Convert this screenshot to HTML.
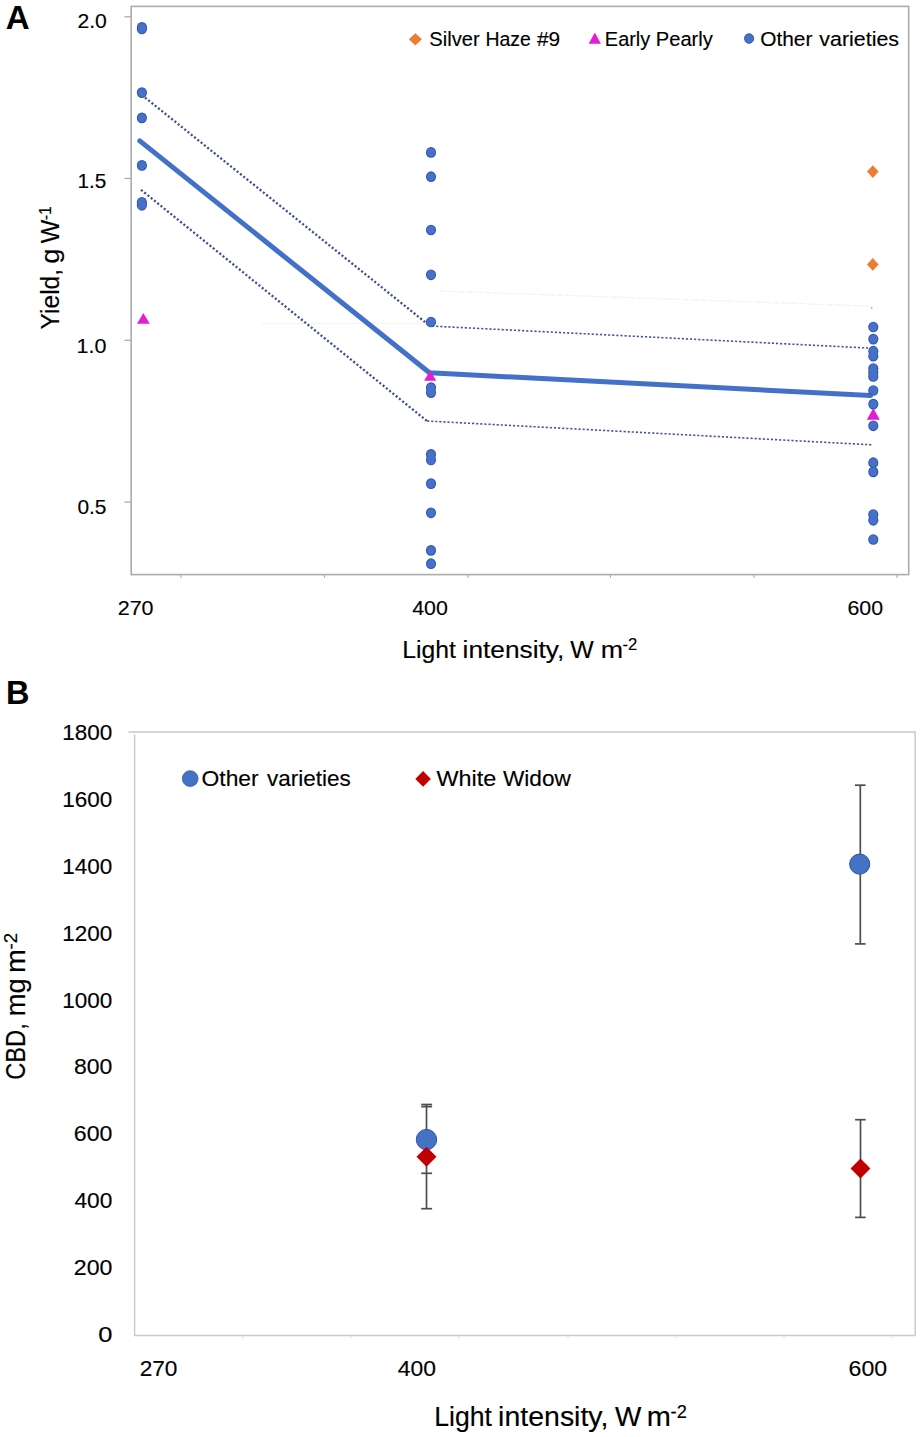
<!DOCTYPE html>
<html>
<head>
<meta charset="utf-8">
<style>
html,body{margin:0;padding:0;background:#fff;}
body{width:920px;height:1437px;overflow:hidden;}
svg{display:block;}
text{font-family:"Liberation Sans",sans-serif;fill:#000;stroke:#000;stroke-width:0.15px;}
text.b{font-weight:bold;stroke-width:0;}
</style>
</head>
<body>
<svg width="920" height="1437" viewBox="0 0 920 1437">
<rect x="0" y="0" width="920" height="1437" fill="#fff"/>

<!-- ===== Panel A frame ===== -->
<rect x="131.2" y="6.4" width="777.5" height="568.2" fill="none" stroke="#ababab" stroke-width="1.6"/>
<g stroke="#ababab" stroke-width="1.3">
<line x1="124.5" y1="16.8" x2="131" y2="16.8"/>
<line x1="124.5" y1="178.5" x2="131" y2="178.5"/>
<line x1="124.5" y1="340.3" x2="131" y2="340.3"/>
<line x1="124.5" y1="502.1" x2="131" y2="502.1"/>
</g>
<g stroke="#b5b5b5" stroke-width="1.2">
<line x1="181" y1="574.6" x2="181" y2="578"/>
<line x1="324.5" y1="574.6" x2="324.5" y2="578"/>
<line x1="468" y1="574.6" x2="468" y2="578"/>
<line x1="610.5" y1="574.6" x2="610.5" y2="578"/>
<line x1="754" y1="574.6" x2="754" y2="578"/>
<line x1="897" y1="574.6" x2="897" y2="578"/>
</g>

<!-- legend A markers -->
<path d="M415.4,33.2 L421.9,39.3 L415.4,45.4 L408.9,39.3Z" fill="#ED7D31"/>
<path d="M594.8,32.4 L600.9,43.7 L588.7,43.7Z" fill="#E21CD8"/>
<ellipse cx="749.1" cy="38.5" rx="4.6" ry="4.8" fill="#4571cc" stroke="#2f52a0" stroke-width="0.9"/>

<!-- lines A -->
<g fill="none" stroke-linecap="round">
<polyline points="262,323.5 440,323.5" stroke="#f6f6f6" stroke-width="1.5"/>
<polyline points="440,291 868,306" stroke="#f4f4f4" stroke-width="1.5" stroke-dasharray="6 3"/>
<polyline points="139.8,140.9 429.5,372.8 870.5,395.5" stroke="#4370c8" stroke-width="5" stroke-linejoin="round"/>
<polyline points="145,97.5 430,326" stroke="#414f92" stroke-width="2.3" stroke-dasharray="2.1 2.1" stroke-linecap="butt"/>
<polyline points="432,326.1 868,348" stroke="#4458a2" stroke-width="1.6" stroke-dasharray="2.2 1.9" stroke-linecap="butt"/>
<polyline points="141,189.8 427,421" stroke="#414f92" stroke-width="2.3" stroke-dasharray="2.1 2.1" stroke-linecap="butt"/>
<polyline points="427,421 871.8,444.8" stroke="#4458a2" stroke-width="1.6" stroke-dasharray="2.2 1.9" stroke-linecap="butt"/>
</g>

<path d="M873.3,408 L879.8,419.8 L866.8,419.8Z" fill="#E21CD8"/>
<g fill="#2f52a0">
<ellipse cx="141.9" cy="27.4" rx="5.05" ry="5.35"/>
<ellipse cx="141.9" cy="29.0" rx="5.05" ry="5.35"/>
<ellipse cx="141.9" cy="92.6" rx="5.05" ry="5.35"/>
<ellipse cx="141.9" cy="117.9" rx="5.05" ry="5.35"/>
<ellipse cx="141.9" cy="165.4" rx="5.05" ry="5.35"/>
<ellipse cx="141.9" cy="202.3" rx="5.05" ry="5.35"/>
<ellipse cx="141.9" cy="205.3" rx="5.05" ry="5.35"/>
<ellipse cx="431.0" cy="152.4" rx="5.05" ry="5.35"/>
<ellipse cx="431.0" cy="176.7" rx="5.05" ry="5.35"/>
<ellipse cx="431.0" cy="230.0" rx="5.05" ry="5.35"/>
<ellipse cx="431.0" cy="274.8" rx="5.05" ry="5.35"/>
<ellipse cx="431.0" cy="322.0" rx="5.05" ry="5.35"/>
<ellipse cx="431.0" cy="387.6" rx="5.05" ry="5.35"/>
<ellipse cx="431.0" cy="392.6" rx="5.05" ry="5.35"/>
<ellipse cx="431.0" cy="454.4" rx="5.05" ry="5.35"/>
<ellipse cx="431.0" cy="460.0" rx="5.05" ry="5.35"/>
<ellipse cx="431.0" cy="483.6" rx="5.05" ry="5.35"/>
<ellipse cx="431.0" cy="512.8" rx="5.05" ry="5.35"/>
<ellipse cx="431.0" cy="550.4" rx="5.05" ry="5.35"/>
<ellipse cx="431.0" cy="563.7" rx="5.05" ry="5.35"/>
<ellipse cx="873.3" cy="327.0" rx="5.05" ry="5.35"/>
<ellipse cx="873.3" cy="339.1" rx="5.05" ry="5.35"/>
<ellipse cx="873.3" cy="351.2" rx="5.05" ry="5.35"/>
<ellipse cx="873.3" cy="356.2" rx="5.05" ry="5.35"/>
<ellipse cx="873.3" cy="368.5" rx="5.05" ry="5.35"/>
<ellipse cx="873.3" cy="372.5" rx="5.05" ry="5.35"/>
<ellipse cx="873.3" cy="376.5" rx="5.05" ry="5.35"/>
<ellipse cx="873.3" cy="390.5" rx="5.05" ry="5.35"/>
<ellipse cx="873.3" cy="404.1" rx="5.05" ry="5.35"/>
<ellipse cx="873.3" cy="425.8" rx="5.05" ry="5.35"/>
<ellipse cx="873.3" cy="462.7" rx="5.05" ry="5.35"/>
<ellipse cx="873.3" cy="471.9" rx="5.05" ry="5.35"/>
<ellipse cx="873.3" cy="514.5" rx="5.05" ry="5.35"/>
<ellipse cx="873.3" cy="520.3" rx="5.05" ry="5.35"/>
<ellipse cx="873.3" cy="539.5" rx="5.05" ry="5.35"/>
</g><g fill="#4571cc">
<ellipse cx="141.9" cy="27.4" rx="4.15" ry="4.45"/>
<ellipse cx="141.9" cy="29.0" rx="4.15" ry="4.45"/>
<ellipse cx="141.9" cy="92.6" rx="4.15" ry="4.45"/>
<ellipse cx="141.9" cy="117.9" rx="4.15" ry="4.45"/>
<ellipse cx="141.9" cy="165.4" rx="4.15" ry="4.45"/>
<ellipse cx="141.9" cy="202.3" rx="4.15" ry="4.45"/>
<ellipse cx="141.9" cy="205.3" rx="4.15" ry="4.45"/>
<ellipse cx="431.0" cy="152.4" rx="4.15" ry="4.45"/>
<ellipse cx="431.0" cy="176.7" rx="4.15" ry="4.45"/>
<ellipse cx="431.0" cy="230.0" rx="4.15" ry="4.45"/>
<ellipse cx="431.0" cy="274.8" rx="4.15" ry="4.45"/>
<ellipse cx="431.0" cy="322.0" rx="4.15" ry="4.45"/>
<ellipse cx="431.0" cy="387.6" rx="4.15" ry="4.45"/>
<ellipse cx="431.0" cy="392.6" rx="4.15" ry="4.45"/>
<ellipse cx="431.0" cy="454.4" rx="4.15" ry="4.45"/>
<ellipse cx="431.0" cy="460.0" rx="4.15" ry="4.45"/>
<ellipse cx="431.0" cy="483.6" rx="4.15" ry="4.45"/>
<ellipse cx="431.0" cy="512.8" rx="4.15" ry="4.45"/>
<ellipse cx="431.0" cy="550.4" rx="4.15" ry="4.45"/>
<ellipse cx="431.0" cy="563.7" rx="4.15" ry="4.45"/>
<ellipse cx="873.3" cy="327.0" rx="4.15" ry="4.45"/>
<ellipse cx="873.3" cy="339.1" rx="4.15" ry="4.45"/>
<ellipse cx="873.3" cy="351.2" rx="4.15" ry="4.45"/>
<ellipse cx="873.3" cy="356.2" rx="4.15" ry="4.45"/>
<ellipse cx="873.3" cy="368.5" rx="4.15" ry="4.45"/>
<ellipse cx="873.3" cy="372.5" rx="4.15" ry="4.45"/>
<ellipse cx="873.3" cy="376.5" rx="4.15" ry="4.45"/>
<ellipse cx="873.3" cy="390.5" rx="4.15" ry="4.45"/>
<ellipse cx="873.3" cy="404.1" rx="4.15" ry="4.45"/>
<ellipse cx="873.3" cy="425.8" rx="4.15" ry="4.45"/>
<ellipse cx="873.3" cy="462.7" rx="4.15" ry="4.45"/>
<ellipse cx="873.3" cy="471.9" rx="4.15" ry="4.45"/>
<ellipse cx="873.3" cy="514.5" rx="4.15" ry="4.45"/>
<ellipse cx="873.3" cy="520.3" rx="4.15" ry="4.45"/>
<ellipse cx="873.3" cy="539.5" rx="4.15" ry="4.45"/>
</g>
<path d="M143.3,313 L149.8,323.7 L137,323.7Z" fill="#E21CD8"/>
<path d="M430.3,370.5 L436.2,380.7 L424.1,380.7Z" fill="#E21CD8"/>
<path d="M872.8,165.2 L878.6,171.6 L872.8,178 L867,171.6Z" fill="#ED7D31"/>
<path d="M872.8,258 L878.6,264.4 L872.8,270.8 L867,264.4Z" fill="#ED7D31"/>

<rect x="871" y="306.8" width="1.4" height="1.8" fill="#e08a9a"/>
<!-- ===== Panel B frame ===== -->
<g stroke="#cacaca" stroke-width="1.5" fill="none">
<line x1="128.4" y1="731.9" x2="915.9" y2="731.9"/>
<line x1="134.6" y1="734.5" x2="134.6" y2="1335.4"/>
<line x1="133.9" y1="1335.4" x2="915.2" y2="1335.4"/>
<line x1="915.2" y1="731.2" x2="915.2" y2="1335.4"/>
</g>
<g stroke="#dedede" stroke-width="1">
<line x1="243" y1="1335.4" x2="243" y2="1338.5"/>
<line x1="351" y1="1335.4" x2="351" y2="1338.5"/>
<line x1="459" y1="1335.4" x2="459" y2="1338.5"/>
<line x1="568" y1="1335.4" x2="568" y2="1338.5"/>
<line x1="675.7" y1="1335.4" x2="675.7" y2="1338.5"/>
<line x1="784" y1="1335.4" x2="784" y2="1338.5"/>
<line x1="892" y1="1335.4" x2="892" y2="1338.5"/>
</g>

<!-- legend B markers -->
<circle cx="190.2" cy="778.6" r="7.9" fill="#4472C4" stroke="#3a5fae" stroke-width="0.8"/>
<path d="M423.1,771.1 L430.9,778.9 L423.1,786.7 L415.3,778.9Z" fill="#C00000"/>

<!-- error bars B -->
<g stroke="#4d4d4d" stroke-width="1.7" fill="none">
<line x1="860.3" y1="785.2" x2="860.3" y2="943.9"/>
<line x1="855" y1="785.2" x2="865.6" y2="785.2"/>
<line x1="855" y1="943.9" x2="865.6" y2="943.9"/>
<line x1="426.5" y1="1104.5" x2="426.5" y2="1208.7"/>
<line x1="421.2" y1="1104.5" x2="432.1" y2="1104.5"/>
<line x1="421.2" y1="1106.6" x2="432.1" y2="1106.6"/>
<line x1="421.2" y1="1173.3" x2="432.1" y2="1173.3"/>
<line x1="421.2" y1="1208.7" x2="432.1" y2="1208.7"/>
<line x1="860.5" y1="1119.7" x2="860.5" y2="1217.4"/>
<line x1="855.1" y1="1119.7" x2="865.7" y2="1119.7"/>
<line x1="855.1" y1="1217.4" x2="865.7" y2="1217.4"/>
</g>
<circle cx="859.7" cy="864.1" r="10.1" fill="#4472C4" stroke="#2f52a0" stroke-width="1"/>
<circle cx="426.5" cy="1139.6" r="10.2" fill="#4472C4" stroke="#2f52a0" stroke-width="1"/>
<path d="M426.5,1146.8 L436.5,1156.8 L426.5,1166.8 L416.5,1156.8Z" fill="#C00000"/>
<path d="M860.5,1158.6 L870.4,1168.6 L860.5,1178.6 L850.6,1168.6Z" fill="#C00000"/>

<!-- ===== text ===== -->
<text class="b" x="5.68" y="29.00" font-size="33.40" textLength="23.90" lengthAdjust="spacingAndGlyphs">A</text>
<text x="77.44" y="27.90" font-size="21.00" textLength="29.39" lengthAdjust="spacingAndGlyphs">2.0</text>
<text x="77.51" y="187.90" font-size="21.00" textLength="28.96" lengthAdjust="spacingAndGlyphs">1.5</text>
<text x="76.56" y="353.00" font-size="21.00" textLength="29.88" lengthAdjust="spacingAndGlyphs">1.0</text>
<text x="77.38" y="513.50" font-size="21.00" textLength="29.10" lengthAdjust="spacingAndGlyphs">0.5</text>
<text x="117.72" y="614.70" font-size="20.80" textLength="35.82" lengthAdjust="spacingAndGlyphs">270</text>
<text x="412.21" y="614.70" font-size="20.80" textLength="35.62" lengthAdjust="spacingAndGlyphs">400</text>
<text x="847.42" y="614.90" font-size="20.80" textLength="35.62" lengthAdjust="spacingAndGlyphs">600</text>
<text x="429.29" y="45.80" font-size="19.90" textLength="50.35" lengthAdjust="spacingAndGlyphs">Silver</text>
<text x="485.40" y="45.80" font-size="19.90" textLength="45.46" lengthAdjust="spacingAndGlyphs">Haze</text>
<text x="536.91" y="45.80" font-size="19.90" textLength="23.18" lengthAdjust="spacingAndGlyphs">#9</text>
<text x="604.87" y="45.80" font-size="19.90" textLength="45.37" lengthAdjust="spacingAndGlyphs">Early</text>
<text x="655.75" y="45.80" font-size="19.90" textLength="57.09" lengthAdjust="spacingAndGlyphs">Pearly</text>
<text x="760.21" y="45.80" font-size="19.90" textLength="52.24" lengthAdjust="spacingAndGlyphs">Other</text>
<text x="819.33" y="45.80" font-size="19.90" textLength="79.65" lengthAdjust="spacingAndGlyphs">varieties</text>
<text x="402.27" y="657.80" font-size="24.70" textLength="53.61" lengthAdjust="spacingAndGlyphs">Light</text>
<text x="462.58" y="657.80" font-size="24.70" textLength="101.74" lengthAdjust="spacingAndGlyphs">intensity,</text>
<text x="570.39" y="657.80" font-size="24.70" textLength="23.49" lengthAdjust="spacingAndGlyphs">W</text>
<text x="600.72" y="657.80" font-size="24.70" textLength="22.35" lengthAdjust="spacingAndGlyphs">m</text>
<text x="622.56" y="650.40" font-size="16.80" textLength="14.77" lengthAdjust="spacingAndGlyphs">-2</text>
<g transform="rotate(-90)"><text x="-329.43" y="59.10" font-size="26.20" textLength="60.50" lengthAdjust="spacingAndGlyphs">Yield,</text><text x="-263.85" y="59.10" font-size="26.20" textLength="15.21" lengthAdjust="spacingAndGlyphs">g</text><text x="-243.21" y="59.10" font-size="26.20" textLength="23.49" lengthAdjust="spacingAndGlyphs">W</text><text x="-220.30" y="51.30" font-size="17.40" textLength="14.08" lengthAdjust="spacingAndGlyphs">-1</text></g>
<text class="b" x="6.03" y="703.60" font-size="33.70" textLength="23.45" lengthAdjust="spacingAndGlyphs">B</text>
<text x="62.28" y="740.20" font-size="21.20" textLength="50.09" lengthAdjust="spacingAndGlyphs">1800</text>
<text x="62.28" y="807.03" font-size="21.20" textLength="50.09" lengthAdjust="spacingAndGlyphs">1600</text>
<text x="62.28" y="873.86" font-size="21.20" textLength="50.09" lengthAdjust="spacingAndGlyphs">1400</text>
<text x="62.28" y="940.69" font-size="21.20" textLength="50.09" lengthAdjust="spacingAndGlyphs">1200</text>
<text x="62.28" y="1007.52" font-size="21.20" textLength="50.09" lengthAdjust="spacingAndGlyphs">1000</text>
<text x="74.00" y="1074.35" font-size="21.20" textLength="38.40" lengthAdjust="spacingAndGlyphs">800</text>
<text x="73.83" y="1141.18" font-size="21.20" textLength="38.58" lengthAdjust="spacingAndGlyphs">600</text>
<text x="74.48" y="1208.01" font-size="21.20" textLength="37.91" lengthAdjust="spacingAndGlyphs">400</text>
<text x="73.84" y="1274.84" font-size="21.20" textLength="38.57" lengthAdjust="spacingAndGlyphs">200</text>
<text x="98.30" y="1341.67" font-size="21.20" textLength="14.19" lengthAdjust="spacingAndGlyphs">0</text>
<text x="139.66" y="1375.60" font-size="21.90" textLength="37.83" lengthAdjust="spacingAndGlyphs">270</text>
<text x="397.67" y="1375.60" font-size="21.90" textLength="38.22" lengthAdjust="spacingAndGlyphs">400</text>
<text x="848.63" y="1375.60" font-size="21.90" textLength="38.58" lengthAdjust="spacingAndGlyphs">600</text>
<text x="201.52" y="785.80" font-size="21.50" textLength="57.16" lengthAdjust="spacingAndGlyphs">Other</text>
<text x="266.92" y="785.80" font-size="21.50" textLength="83.79" lengthAdjust="spacingAndGlyphs">varieties</text>
<text x="436.50" y="785.50" font-size="21.50" textLength="59.74" lengthAdjust="spacingAndGlyphs">White</text>
<text x="502.90" y="785.50" font-size="21.50" textLength="67.94" lengthAdjust="spacingAndGlyphs">Widow</text>
<text x="434.22" y="1425.80" font-size="27.00" textLength="57.68" lengthAdjust="spacingAndGlyphs">Light</text>
<text x="498.13" y="1425.80" font-size="27.00" textLength="110.28" lengthAdjust="spacingAndGlyphs">intensity,</text>
<text x="614.98" y="1425.80" font-size="27.00" textLength="26.32" lengthAdjust="spacingAndGlyphs">W</text>
<text x="646.78" y="1425.80" font-size="27.00" textLength="24.13" lengthAdjust="spacingAndGlyphs">m</text>
<text x="670.59" y="1417.60" font-size="18.20" textLength="16.23" lengthAdjust="spacingAndGlyphs">-2</text>
<g transform="rotate(-90)"><text x="-1079.80" y="24.90" font-size="27.30" textLength="56.53" lengthAdjust="spacingAndGlyphs">CBD,</text><text x="-1016.31" y="24.90" font-size="27.30" textLength="37.87" lengthAdjust="spacingAndGlyphs">mg</text><text x="-972.90" y="24.90" font-size="27.30" textLength="23.78" lengthAdjust="spacingAndGlyphs">m</text><text x="-949.53" y="17.00" font-size="19.00" textLength="16.68" lengthAdjust="spacingAndGlyphs">-2</text></g>
</svg>
</body>
</html>
